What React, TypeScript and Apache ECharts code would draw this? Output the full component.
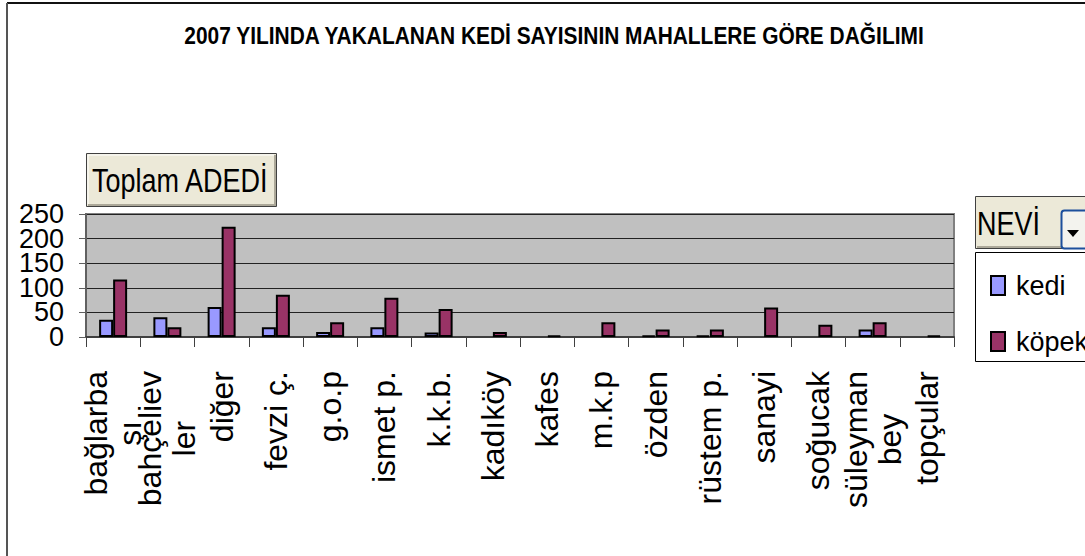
import React, { useEffect, useRef } from "react";
import * as echarts from "echarts";

const titleText = "2007 YILINDA YAKALANAN KEDİ SAYISININ MAHALLERE GÖRE DAĞILIMI";
const categories = [
  "bağlarbaşı", "bahçelievler", "diğer", "fevzi ç.", "g.o.p", "ismet p.", "k.k.b.", "kadıköy",
  "kafes", "m.k.p", "özden", "rüstem p.", "sanayi", "soğucak", "süleyman bey", "topçular",
];
const tickLabels = [
  "bağlarba\nşı", "bahçeliev\nler", "diğer", "fevzi ç.", "g.o.p", "ismet p.", "k.k.b.", "kadıköy",
  "kafes", "m.k.p", "özden", "rüstem p.", "sanayi", "soğucak", "süleyman\nbey", "topçular",
];
const seriesNames = ["kedi", "köpek"];
const kedi = [35, 40, 61, 20, 10, 20, 9, null, null, null, 3, 3, null, null, 15, null];
const kopek = [117, 20, 224, 86, 30, 80, 57, 10, 3, 30, 15, 15, 60, 25, 30, 3];
const yMin = 0;
const yMax = 250;
const yInterval = 50;
// y tick labels, split into two alternating sets so the tall, overlapping labels are all kept
const yLabelsA = [0, 100, 200];
const yLabelsB = [50, 150, 250];

const FONT = '"Liberation Sans", Arial, sans-serif';

export default function App() {
  const ref = useRef<HTMLDivElement>(null);
  useEffect(() => {
    if (!ref.current) return;
    const chart = echarts.init(ref.current, null, { renderer: "svg" });
    const yLabelStyle = {
      fontSize: 27,
      color: "#000",
      margin: 22,
      fontFamily: FONT,
      showMinLabel: true,
      showMaxLabel: true,
      hideOverlap: false,
    };
    chart.setOption({
      animation: false,
      backgroundColor: "#ffffff",
      textStyle: { fontFamily: FONT },
      grid: {
        left: 86,
        top: 214,
        width: 868,
        height: 123,
        show: true,
        backgroundColor: "#C0C0C0",
        borderColor: "#808080",
        borderWidth: 2,
      },
      legend: {
        orient: "vertical",
        left: 985,
        top: 267,
        itemWidth: 14,
        itemHeight: 19,
        itemGap: 29,
        icon: "rect",
        selectedMode: false,
        data: seriesNames,
        textStyle: {
          fontSize: 27,
          color: "#000",
          fontFamily: FONT,
          lineHeight: 20,
          padding: [0, 0, 0, 6],
        },
      },
      xAxis: {
        type: "category",
        data: categories,
        axisLine: { show: true, lineStyle: { color: "#404040", width: 2 } },
        axisTick: { show: true, length: 10, lineStyle: { color: "#404040", width: 1 } },
        axisLabel: {
          interval: 0,
          rotate: 90,
          margin: 34,
          color: "#000",
          hideOverlap: false,
          formatter: (_v: string, i: number) =>
            tickLabels[i]
              .split("\n")
              .map((l) => `{c|${l}}`)
              .join("\n"),
          rich: {
            c: {
              align: "center",
              fontSize: 32,
              lineHeight: 34,
              fontFamily: FONT,
              color: "#000",
            },
          },
        },
      },
      yAxis: [
        {
          type: "value",
          position: "left",
          min: yMin,
          max: yMax,
          interval: yInterval,
          axisLine: { show: true, lineStyle: { color: "#606060", width: 2 } },
          axisTick: { show: true, length: 7, lineStyle: { color: "#606060" } },
          splitLine: { show: true, lineStyle: { color: "#222", width: 1 } },
          axisLabel: { ...yLabelStyle, customValues: yLabelsA },
        },
        {
          type: "value",
          position: "left",
          offset: 0,
          min: yMin,
          max: yMax,
          interval: yInterval,
          axisLine: { show: false },
          axisTick: { show: false },
          splitLine: { show: false },
          axisLabel: { ...yLabelStyle, customValues: yLabelsB },
        },
      ],
      series: [
        {
          name: seriesNames[0],
          type: "bar",
          yAxisIndex: 0,
          data: kedi.map((v) => (v == null ? "-" : v)),
          barWidth: 14,
          barGap: "0%",
          itemStyle: { color: "#9999FF", borderColor: "#000", borderWidth: 2 },
        },
        {
          name: seriesNames[1],
          type: "bar",
          yAxisIndex: 0,
          data: kopek,
          barWidth: 14,
          barGap: "0%",
          itemStyle: { color: "#993366", borderColor: "#000", borderWidth: 2 },
        },
      ],
      graphic: [
        // outer frame
        { type: "line", shape: { x1: 7, y1: 3, x2: 1085, y2: 3 }, style: { stroke: "#111", lineWidth: 2 } },
        { type: "line", shape: { x1: 7, y1: 3, x2: 7, y2: 556 }, style: { stroke: "#555", lineWidth: 2 } },
        // title
        {
          type: "text",
          x: 554,
          y: 36,
          scaleX: 0.91,
          scaleY: 1.05,
          style: {
            text: titleText,
            font: `bold 23px ${FONT}`,
            fill: "#000",
            textAlign: "center",
            textVerticalAlign: "middle",
          },
        },
        // Toplam ADEDİ field button
        {
          type: "rect",
          shape: { x: 86.5, y: 153.5, width: 190, height: 53 },
          style: { fill: "#ECE9D8", stroke: "#404040", lineWidth: 1 },
        },
        {
          type: "polyline",
          shape: { points: [[88, 205], [275, 205], [275, 155]] },
          style: { stroke: "#ACA899", lineWidth: 2, fill: null },
        },
        {
          type: "polyline",
          shape: { points: [[88, 204], [88, 155], [274, 155]] },
          style: { stroke: "#ffffff", lineWidth: 1, fill: null },
        },
        {
          type: "text",
          x: 92,
          y: 181,
          scaleY: 1.2,
          style: {
            text: "Toplam ADEDİ",
            font: `27px ${FONT}`,
            fill: "#000",
            textAlign: "left",
            textVerticalAlign: "middle",
          },
        },
        // NEVİ field button
        {
          type: "rect",
          shape: { x: 975.5, y: 196.5, width: 120, height: 52 },
          style: { fill: "#ECE9D8", stroke: "#404040", lineWidth: 1 },
        },
        {
          type: "line",
          shape: { x1: 977, y1: 247, x2: 1085, y2: 247 },
          style: { stroke: "#ACA899", lineWidth: 2 },
        },
        {
          type: "text",
          x: 977,
          y: 223,
          scaleY: 1.25,
          style: {
            text: "NEVİ",
            font: `27px ${FONT}`,
            fill: "#000",
            textAlign: "left",
            textVerticalAlign: "middle",
          },
        },
        {
          type: "rect",
          shape: { x: 1061.5, y: 210.5, width: 30, height: 38, r: 3 },
          style: { fill: "#F3F3EE", stroke: "#1C4F9C", lineWidth: 2 },
        },
        {
          type: "polygon",
          shape: { points: [[1067, 230], [1079, 230], [1073, 237]] },
          style: { fill: "#000" },
        },
        // legend box
        {
          type: "rect",
          shape: { x: 975.5, y: 252.5, width: 120, height: 109 },
          style: { fill: "#ffffff", stroke: "#000", lineWidth: 1 },
        },
      ],
    });
    return () => chart.dispose();
  }, []);
  return (
    <div
      ref={ref}
      style={{ position: "absolute", left: 0, top: 0, width: 1085, height: 556, background: "#fff" }}
    />
  );
}
